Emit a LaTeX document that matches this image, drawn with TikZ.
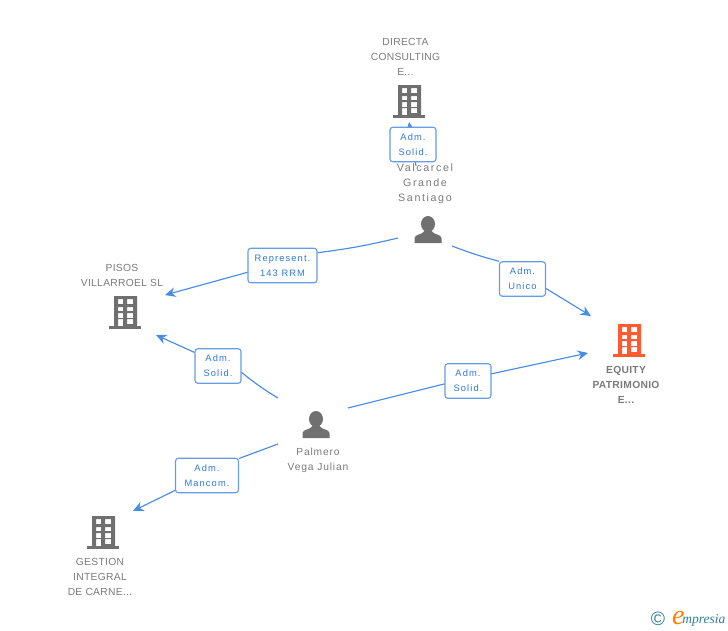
\documentclass[tikz,border=0pt]{standalone}
\usepackage{fontspec}
\usepackage{tikz}
\usetikzlibrary{arrows.meta}
\setmainfont{Liberation Sans}
\newfontfamily\namefont[LetterSpace=3]{Liberation Sans}
\newfontfamily\personfont[LetterSpace=8]{Liberation Sans}
\newfontfamily\widefont[LetterSpace=15]{Liberation Sans}
\newfontfamily\tagfont[LetterSpace=12]{Liberation Sans}
\newfontfamily\logofont{Liberation Serif}
\definecolor{linkblue}{HTML}{4A8CE2}
\definecolor{tagblue}{HTML}{2F78DC}
\definecolor{icongray}{HTML}{707070}
\definecolor{textgray}{HTML}{7A7A7A}
\definecolor{equityred}{HTML}{FF5A30}
\definecolor{logoteal}{HTML}{2F7F9A}
\tikzset{
	link/.style={linkblue,line width=0.65pt},
	linkto/.style={link,-{Stealth[length=6pt,width=5.5pt]}},
	tagbox/.style={draw=linkblue!85,fill=white,rounded corners=1.6pt,line width=0.65pt,inner sep=0pt,
		minimum width=26.2pt,minimum height=19.6pt,align=center,text=tagblue,font=\tagfont\fontsize{5.3}{8.5}\selectfont},
	namelabel/.style={inner sep=0pt,align=center,text=textgray,font=\namefont\fontsize{5.85}{8.53}\selectfont},
	pics/building/.style={code={
		\fill[#1,even odd rule] (-11,-17) rectangle (12,13)
			(-7,-14) rectangle (-2,-9) (2,-14) rectangle (8,-9)
			(-7,-6) rectangle (-2,-2) (2,-6) rectangle (8,-2)
			(-7,0) rectangle (-2,5) (2,0) rectangle (8,5)
			(-7,6) rectangle (-2,13) (2,6) rectangle (8,11);
		\fill[#1] (-16,13) rectangle (16,16);
	}},
	pics/person/.style={code={
		\fill[icongray] (0,-6) ellipse (7 and 8);
		\fill[icongray] (-13.5,13) -- (-13.5,8) .. controls (-13,4) and (-6,5) .. (-3.5,1)
			-- (3.5,1) .. controls (6,5) and (13,4) .. (13.5,8) -- (13.5,13) -- cycle;
	}}
}
\begin{document}
\begin{tikzpicture}[x=0.02cm,y=-0.02cm]
	\useasboundingbox (0,0) rectangle (728,630);
	% icons
	\pic at (409,102) {building=icongray};
	\pic at (125,313) {building=icongray};
	\pic at (629,341) {building=equityred};
	\pic at (103,533) {building=icongray};
	\pic at (428,230) {person};
	\pic at (316,425) {person};
	% free ends of the links
	\coordinate (S1) at (398,238);
	\coordinate (S2) at (452,246);
	\coordinate (S3) at (416,166);
	\coordinate (P1) at (348,408);
	\coordinate (P2) at (278,398);
	\coordinate (P3) at (278,444);
	\coordinate (Directa) at (409,122);
	\coordinate (Pisos) at (165,295);
	\coordinate (Pisos2) at (156,335);
	\coordinate (Equity) at (591,316);
	\coordinate (Equity2) at (588,353);
	\coordinate (Gestion) at (133,511);
	% labels on the links
	\draw[linkto] (S3) -- (Directa);
	\node[tagbox] (T1) at (413,144.5) {Adm.\\Solid.};
	\node[tagbox,minimum width=39.3pt] (T2) at (282.5,265.5) {Represent.\\143 RRM};
	\node[tagbox] (T3) at (522.5,279) {Adm.\\Unico};
	\node[tagbox] (T4) at (468,381) {Adm.\\Solid.};
	\node[tagbox] (T5) at (218,366) {Adm.\\Solid.};
	\node[tagbox,minimum width=35.8pt] (T6) at (207,475.5) {Adm.\\Mancom.};
	\draw[link] (S1) to[bend left=3] (T2.20);
	\draw[linkto] (T2.191) -- (Pisos);
	\draw[link] (S2) to[bend right=3] (T3.143);
	\draw[linkto] (T3.-22) -- (Equity);
	\draw[link] (P1) -- (T4.187);
	\draw[linkto] (T4.17) -- (Equity2);
	\draw[link] (P2) to[bend left=4] (T5.-15);
	\draw[linkto] (T5.150) -- (Pisos2);
	\draw[link] (P3) -- (T6.28);
	\draw[linkto] (T6.205) -- (Gestion);
	% names
	\node[namelabel] (N1) at (405.5,56.5) {DIRECTA\\CONSULTING\\E...};
	\node[namelabel,font=\widefont\fontsize{6.1}{8.53}\selectfont] (N2) at (425,183.5) {Valcarcel\\Grande\\Santiago};
	\node[namelabel] (N3) at (122,275) {PISOS\\VILLARROEL SL};
	\node[namelabel,font=\namefont\bfseries\fontsize{5.85}{8.53}\selectfont] (N4) at (626,385) {EQUITY\\PATRIMONIO\\E...};
	\node[namelabel,font=\personfont\fontsize{5.85}{8.53}\selectfont] (N5) at (318,460.5) {Palmero\\Vega Julian};
	\node[namelabel] (N6) at (100,577) {GESTION\\INTEGRAL\\DE CARNE...};
	% logo
	\node[inner sep=0pt,text=logoteal,font=\fontsize{11}{11}\selectfont] (L1) at (658,619) {\textcopyright};
	\node[inner sep=0pt,text=logoteal,anchor=base west,font=\logofont\itshape\fontsize{7.7}{9}\selectfont] (L2) at (682,623) {mpresia};
	\node[inner sep=0pt,text=orange,anchor=base east,font=\logofont\itshape\fontsize{16}{16}\selectfont] (L3) at (685,624) {e};
\end{tikzpicture}
\end{document}
